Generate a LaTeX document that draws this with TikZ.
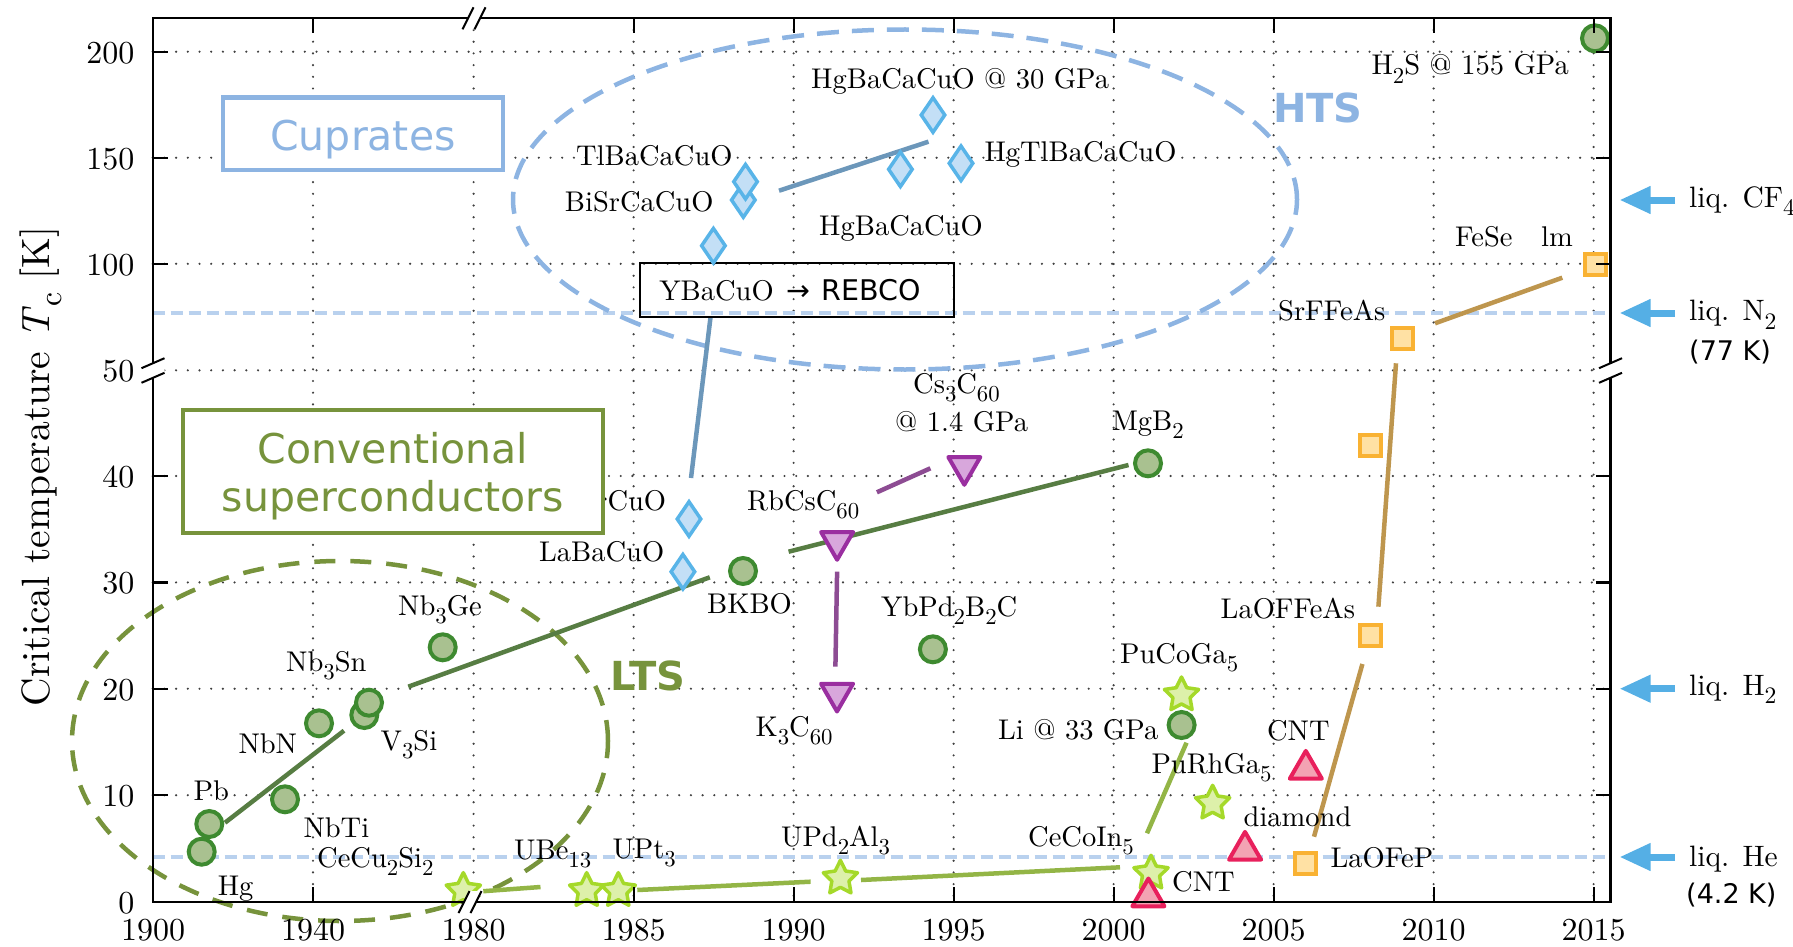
\documentclass[tikz,border=0pt]{standalone}
\usepackage{graphicx}
\usepackage{fontspec}
\newfontfamily\dejavu{DejaVu Sans}
\newfontfamily\lmten{lmroman10-regular.otf}[ItalicFont=lmroman10-italic.otf]
\usetikzlibrary{shapes.geometric,arrows.meta}

\definecolor{htsblue}{HTML}{8DB4E2}
\definecolor{ltsgreen}{HTML}{77933C}
\definecolor{refblue}{HTML}{B9D1EE}
\definecolor{arrowblue}{HTML}{55AFE5}
\definecolor{circB}{HTML}{3E8A30}
\definecolor{circF}{HTML}{A9C190}
\definecolor{convline}{HTML}{577D43}
\definecolor{diaB}{HTML}{58B4E8}
\definecolor{diaF}{HTML}{C3DFF6}
\definecolor{cuprline}{HTML}{6C97BA}
\definecolor{purB}{HTML}{9A2FA0}
\definecolor{purF}{HTML}{D8A7DC}
\definecolor{purline}{HTML}{8D4C93}
\definecolor{starB}{HTML}{A5D92A}
\definecolor{starF}{HTML}{DDF0AA}
\definecolor{hfline}{HTML}{93B546}
\definecolor{redB}{HTML}{E8205C}
\definecolor{redF}{HTML}{F3A3B3}
\definecolor{sqB}{HTML}{F9B233}
\definecolor{sqF}{HTML}{FFE1A4}
\definecolor{feline}{HTML}{BE964E}

\newcommand\lblfont{\lmten\fontsize{28.5}{34}\selectfont}
\newcommand\liqfont{\lmten\fontsize{29.5}{35}\selectfont}
\newcommand\tickfont{\lmten\fontsize{32}{38}\selectfont}
\newcommand\boxfont{\dejavu\fontsize{41}{48.3}\selectfont}
% lowered, scaled-down subscript
\newcommand\ls[1]{\raisebox{-0.29em}{\scalebox{0.8}{#1}}}

\begin{document}
\begin{tikzpicture}[x=1pt,y=-1pt,
  lbl/.style={font=\lblfont, inner sep=0pt, anchor=base west},
  liq/.style={font=\liqfont, inner sep=0pt, anchor=base west},
  ticklbl/.style={font=\tickfont, inner sep=0pt},
  gridline/.style={black!75, line width=2.4pt, dash pattern=on 0pt off 11.7pt, line cap=round},
  refline/.style={refblue, line width=4pt, dash pattern=on 12.5pt off 5.5pt},
  trend/.style={line width=4.5pt},
  circ/.style={circle, draw=circB, fill=circF, line width=4pt, minimum size=26pt, inner sep=0pt},
  dia/.style={diamond, draw=diaB, fill=diaF, line width=3.5pt, minimum width=25pt, minimum height=36pt, inner sep=0pt},
  tdown/.style={regular polygon, regular polygon sides=3, shape border rotate=180, draw=purB, fill=purF, line width=4pt, minimum size=37pt, inner sep=0pt, line join=round},
  tup/.style={regular polygon, regular polygon sides=3, draw=redB, fill=redF, line width=4pt, minimum size=37pt, inner sep=0pt, line join=round},
  starm/.style={star, star points=5, star point ratio=2, draw=starB, fill=starF, line width=3.5pt, minimum size=36pt, inner sep=0pt, line join=round},
  sq/.style={rectangle, draw=sqB, fill=sqF, line width=4pt, minimum size=21pt, inner sep=0pt},
  axisline/.style={black, line width=2.2pt},
  liqarrow/.style={arrowblue, line width=7pt, -{Triangle[length=31pt,width=26pt]}}
]
\useasboundingbox (0,0) rectangle (1793,947);

% dotted grid
\foreach \gx in {313,473.6,633.6,793.6,953.6,1113.6,1273.6,1433.6,1593.6}
  \draw[gridline] (\gx,18.3) -- (\gx,901.7);
\foreach \gy in {51.7,157.7,263.8,370.3,476,582.4,688.7,795.2}
  \draw[gridline] (152.7,\gy) -- (1610.5,\gy);

% boiling points of nitrogen and helium
\draw[refline] (152.7,313) -- (1610.5,313);
\draw[refline] (152.7,857) -- (1610.5,857);

% HTS and LTS regions
\draw[htsblue, line width=4.5pt, dash pattern=on 22pt off 13pt] (905,199.5) ellipse [x radius=392pt, y radius=170pt];
\draw[ltsgreen, line width=4.5pt, dash pattern=on 21pt off 15pt] (340,741) ellipse [x radius=268pt, y radius=180pt];

% trend lines
\coordinate (c1a) at (225,822.7);   \coordinate (c1b) at (344,730.7);
\coordinate (c2a) at (408.3,686.7); \coordinate (c2b) at (709.8,577.3);
\coordinate (c3a) at (788.6,551.7); \coordinate (c3b) at (1128.5,465);
\draw[trend, convline] (c1a) -- (c1b);
\draw[trend, convline] (c2a) -- (c2b);
\draw[trend, convline] (c3a) -- (c3b);

\coordinate (u1a) at (691,478);     \coordinate (u1b) at (710.5,317.3);
\coordinate (u2a) at (779,190.7);   \coordinate (u2b) at (928.5,141.7);
\draw[trend, cuprline] (u1a) -- (u1b);
\draw[trend, cuprline] (u2a) -- (u2b);

\coordinate (f1a) at (837.1,571.7); \coordinate (f1b) at (835.4,666.7);
\coordinate (f2a) at (876.9,492.3); \coordinate (f2b) at (930.4,468.3);
\draw[trend, purline] (f1a) -- (f1b);
\draw[trend, purline] (f2a) -- (f2b);

\coordinate (h1a) at (483.3,891.2); \coordinate (h1b) at (540.5,887);
\coordinate (h2a) at (637.3,890);   \coordinate (h2b) at (810.6,881.7);
\coordinate (h3a) at (861,880);     \coordinate (h3b) at (1120,867.3);
\coordinate (h4a) at (1147,833.3);  \coordinate (h4b) at (1186.5,742.7);
\draw[trend, hfline] (h1a) -- (h1b);
\draw[trend, hfline] (h2a) -- (h2b);
\draw[trend, hfline] (h3a) -- (h3b);
\draw[trend, hfline] (h4a) -- (h4b);

\coordinate (e1a) at (1314,836.7);  \coordinate (e1b) at (1362.4,664);
\coordinate (e2a) at (1378.4,606.7);\coordinate (e2b) at (1396,363.3);
\coordinate (e3a) at (1435,323.3);  \coordinate (e3b) at (1562.3,277.7);
\draw[trend, feline] (e1a) -- (e1b);
\draw[trend, feline] (e2a) -- (e2b);
\draw[trend, feline] (e3a) -- (e3b);

% labels
\node[lbl] (tHgp)   at (811,88.3)    {HgBaCaCuO @ 30 GPa};
\node[lbl] (tTl)    at (576,165.7)   {TlBaCaCuO};
\node[lbl] (tBi)    at (564.7,211.7) {BiSrCaCuO};
\node[lbl] (tHg)    at (819,235)     {HgBaCaCuO};
\node[lbl] (tHgTl)  at (984.3,161)   {HgTlBaCaCuO};
\node[lbl] (tCs)    at (913,393.3)   {Cs\ls{3}C\ls{60}};
\node[lbl] (tCsp)   at (895,431.7)   {@ 1.4 GPa};
\node[lbl] (tMg)    at (1111.6,430)  {MgB\ls{2}};
\node[lbl] (tH2S)   at (1371.4,75)   {H\ls{2}S @ 155 GPa};
\node[lbl] (tFeSe)  at (1455,246.7)  {FeSe\quad lm};
\node[lbl] (tSr)    at (1278,320.7)  {SrFFeAs};
\node[lbl] (tGe)    at (398,615)     {Nb\ls{3}Ge};
\node[lbl] (tSn)    at (286,671.7)   {Nb\ls{3}Sn};
\node[lbl] (tNbN)   at (238.3,753.3) {NbN};
\node[lbl] (tV)     at (380.5,750)   {V\ls{3}Si};
\node[lbl] (tPb)    at (193.5,800)   {Pb};
\node[lbl] (tNbTi)  at (303.3,837.3) {NbTi};
\node[lbl] (tHgel)  at (217.6,895)   {Hg};
\node[lbl] (tCeCu)  at (317,867.3)   {CeCu\ls{2}Si\ls{2}};
\node[lbl] (tUBe)   at (514,859.3)   {UBe\ls{13}};
\node[lbl] (tUPt)   at (612.4,858.3) {UPt\ls{3}};
\node[lbl] (tLaBa)  at (538.9,561.7) {LaBaCuO};
\node[lbl, anchor=base east] (tLaSr) at (666.3,510) {LaSrCuO};
\node[lbl] (tRb)    at (747,510)     {RbCsC\ls{60}};
\node[lbl] (tBK)    at (707,613.3)   {BKBO};
\node[lbl] (tYb)    at (881,616.7)   {YbPd\ls{2}B\ls{2}C};
\node[lbl] (tK)     at (755.4,736.7) {K\ls{3}C\ls{60}};
\node[lbl] (tPuCo)  at (1120,663.3)  {PuCoGa\ls{5}};
\node[lbl] (tLi)    at (997.9,739.3) {Li @ 33 GPa};
\node[lbl] (tPuRh)  at (1151.3,773.3){PuRhGa\ls{5}};
\node[lbl] (tUPd)   at (781,846.7)   {UPd\ls{2}Al\ls{3}};
\node[lbl] (tCeCo)  at (1028,846.7)  {CeCoIn\ls{5}};
\node[lbl] (tCNTa)  at (1172,891.7)  {CNT};
\node[lbl] (tLaOF)  at (1220.5,618.3){LaOFFeAs};
\node[lbl] (tCNTb)  at (1266.9,740)  {CNT};
\node[lbl] (tDia)   at (1243.5,826.7){diamond};
\node[lbl] (tLaOP)  at (1330.4,867.3){LaOFeP};

% category boxes
\node[draw=htsblue, line width=4.5pt, fill=white, minimum width=280pt, minimum height=72.7pt,
      inner sep=0pt, text=htsblue, font=\boxfont, text height=32.6pt, text depth=0pt]
      (cupbox) at (363,133.7) {Cuprates};
\node[draw=ltsgreen, line width=4.5pt, fill=white, minimum width=420pt, minimum height=122.7pt,
      inner sep=0pt, text=ltsgreen, font=\boxfont, align=center]
      (convbox) at (393,471.4) {\rule{0pt}{41pt}Conventional\\superconductors};
\node[draw=black, line width=2pt, minimum height=54pt, text width=276pt, inner xsep=19pt,
      inner ysep=0pt, align=left, anchor=west, font=\lblfont, text height=20pt, text depth=0.6pt]
      (rebco) at (639.3,290.3) {YBaCuO\hspace{13pt}{\dejavu →\hspace{11pt}REBCO}};

\node[font=\dejavu\bfseries\fontsize{40}{48}\selectfont, text=htsblue, inner sep=0pt, anchor=base west] (hts) at (1273,123) {HTS};
\node[font=\dejavu\bfseries\fontsize{40}{48}\selectfont, text=ltsgreen, inner sep=0pt, anchor=base west] (lts) at (610,690) {LTS};

% conventional superconductors
\node[circ] (Pb) at (209.3,824) {};
\node[circ] (Hg) at (201.7,851.7) {};
\node[circ] (NbTi) at (285,799.3) {};
\node[circ] (NbN) at (319,723.3) {};
\node[circ] (V3Si) at (364.3,715) {};
\node[circ] (Nb3Sn) at (369,702.7) {};
\node[circ] (Nb3Ge) at (442.7,647.3) {};
\node[circ] (BKBO) at (743,571) {};
\node[circ] (YbPdBC) at (932.9,649.3) {};
\node[circ] (MgB2) at (1148,463.3) {};
\node[circ] (Li) at (1181.6,725) {};
\node[circ] (H2S) at (1595,38.3) {};

% cuprates
\node[dia] (LaBaCuO) at (682.9,571.7) {};
\node[dia] (LaSrCuO) at (689,519) {};
\node[dia] (YBaCuO) at (713.4,245.7) {};
\node[dia] (BiSrCaCuO) at (743.3,200) {};
\node[dia] (TlBaCaCuO) at (745.5,181.7) {};
\node[dia] (HgBaCaCuO) at (900.4,169.3) {};
\node[dia] (HgBaCaCuOp) at (933,115) {};
\node[dia] (HgTlBaCaCuO) at (961,163.3) {};

% fullerides
\node[tdown] (RbCsC60) at (837.1,541.3) {};
\node[tdown] (K3C60) at (837,693) {};
\node[tdown] (Cs3C60) at (964.3,466.3) {};

% heavy fermions
\node[starm] (CeCuSi) at (463.3,890.7) {};
\node[starm] (UBe13) at (586.7,890.7) {};
\node[starm] (UPt3) at (618.3,890.7) {};
\node[starm] (UPdAl) at (840.4,878.3) {};
\node[starm] (CeCoIn) at (1151,873.3) {};
\node[starm] (PuCoGa) at (1181.5,695) {};
\node[starm] (PuRhGa) at (1212.6,803.3) {};

% carbon
\node[tup] (CNTa) at (1148.4,897) {};
\node[tup] (diamC) at (1245,850.4) {};
\node[tup] (CNTb) at (1305.8,769.4) {};

% iron based
\node[sq] (LaOFeP) at (1305.8,863.3) {};
\node[sq] (LaOFFeAs) at (1370.6,635.7) {};
\node[sq] (SmOFFeAs) at (1370.6,445) {};
\node[sq] (SrFFeAs) at (1402,338.3) {};
\node[sq] (FeSe) at (1595,264.3) {};

% frame and ticks
\draw[axisline] (152.7,18.3) rectangle (1610.5,901.7);
\foreach \gx in {313,633.6,793.6,953.6,1113.6,1273.6,1433.6,1593.6} {
  \draw[axisline] (\gx,901.7) -- ++(0,-15);
  \draw[axisline] (\gx,18.3) -- ++(0,15);
}
\foreach \gy in {51.7,157.7,263.8,476,582.4,688.7,795.2} {
  \draw[axisline] (152.7,\gy) -- ++(15,0);
  \draw[axisline] (1610.5,\gy) -- ++(-15,0);
}

% axis breaks
\foreach \bx in {153,1610.5} {
  \fill[white] (\bx-11.5,368.2) -- (\bx+11.5,358.2) -- (\bx+11.5,372.8) -- (\bx-11.5,382.8) -- cycle;
  \draw[black, line width=2pt] (\bx-11.5,368.2) -- (\bx+11.5,358.2);
  \draw[black, line width=2pt] (\bx-11.5,382.8) -- (\bx+11.5,372.8);
}
\foreach \bx/\by in {474/18.3,470/902} {
  \fill[white] (\bx-11.5,\by+11) -- (\bx-0.5,\by-11) -- (\bx+11.5,\by-11) -- (\bx+0.5,\by+11) -- cycle;
  \draw[black, line width=2pt] (\bx-11.5,\by+11) -- (\bx-0.5,\by-11);
  \draw[black, line width=2pt] (\bx+0.5,\by+11) -- (\bx+11.5,\by-11);
}

% tick labels
\foreach \gy/\v in {51.7/200,157.7/150,263.8/100,370.3/50,476/40,582.4/30,688.7/20,795.2/10,901.7/0}
  \node[ticklbl, anchor=east] (ylab\v) at (134.5,\gy+1) {\v};
\foreach \gx/\v in {153/1900,313/1940,473.6/1980,633.6/1985,793.6/1990,953.6/1995,1113.6/2000,1273.6/2005,1433.6/2010,1593.6/2015}
  \node[ticklbl, anchor=base] (xlab\v) at (\gx,940) {\v};

\node[font=\lmten\fontsize{39.5}{46}\selectfont, rotate=90, anchor=base, inner sep=0pt] (ytitle) at (49.7,466.5)
  {Critical temperature \textit{T}\ls{c} [K]};

% cryogen markers
\coordinate (cfT) at (1675,200);   \coordinate (cfH) at (1619.5,200);
\coordinate (nT) at (1675,313);    \coordinate (nH) at (1619.5,313);
\coordinate (hT) at (1675,688.7);  \coordinate (hH) at (1619.5,688.7);
\coordinate (heT) at (1675,857);   \coordinate (heH) at (1619.5,857);
\draw[liqarrow] (cfT) -- (cfH);
\draw[liqarrow] (nT) -- (nH);
\draw[liqarrow] (hT) -- (hH);
\draw[liqarrow] (heT) -- (heH);
\node[liq] (lCF) at (1689,207.3) {liq. CF\ls{4}};
\node[liq] (lN)  at (1689,320.7) {liq. N\ls{2}};
\node[font=\dejavu\fontsize{27}{32}\selectfont, inner sep=0pt, anchor=base west] (lN77) at (1689,360) {(77 K)};
\node[liq] (lH)  at (1689,695)   {liq. H\ls{2}};
\node[liq] (lHe) at (1689,866.7) {liq. He};
\node[font=\dejavu\fontsize{27}{32}\selectfont, inner sep=0pt, anchor=base west] (lHe4) at (1686,903) {(4.2 K)};
\end{tikzpicture}
\end{document}
